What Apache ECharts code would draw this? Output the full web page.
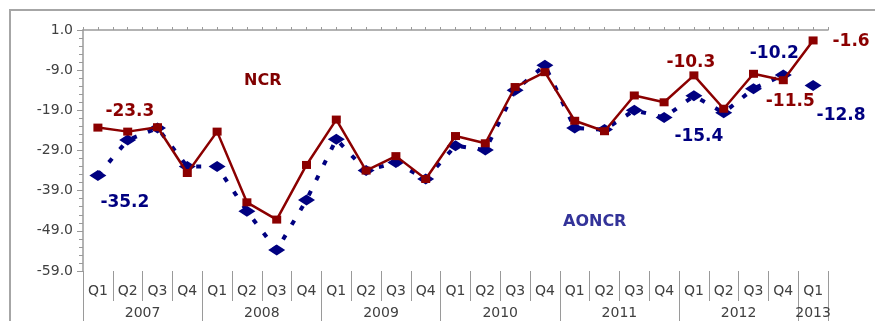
<!DOCTYPE html>
<html>
<head>
<meta charset="utf-8">
<script src="https://cdn.jsdelivr.net/npm/echarts@6/dist/echarts.min.js"></script>
<style>html,body{margin:0;padding:0;background:#fff;}#c{width:875px;height:321px;}</style>
</head>
<body>
<div id="c"></div>
<script>
// ---- data ----
const years = ['2007', '2008', '2009', '2010', '2011', '2012', '2013'];
const quartersPerYear = [4, 4, 4, 4, 4, 4, 1];
const quarters = ['Q1','Q2','Q3','Q4','Q1','Q2','Q3','Q4','Q1','Q2','Q3','Q4','Q1','Q2','Q3','Q4','Q1','Q2','Q3','Q4','Q1','Q2','Q3','Q4','Q1'];
const ncr = [-23.3, -24.3, -23.2, -34.6, -24.3, -41.9, -46.2, -32.6, -21.3, -34.0, -30.4, -36.1, -25.4, -27.2, -13.2, -9.5, -21.6, -24.2, -15.3, -17.0, -10.3, -18.6, -9.9, -11.5, -1.6];
const aoncr = [-35.2, -26.4, -23.4, -33.0, -33.0, -44.1, -53.8, -41.3, -26.2, -34.0, -32.0, -36.1, -27.8, -28.9, -14.0, -7.8, -23.4, -23.8, -19.0, -20.8, -15.4, -19.6, -13.6, -10.2, -12.8];
const yTicks = [1.0, -9.0, -19.0, -29.0, -39.0, -49.0, -59.0];

// ---- label placement (style, not data) ----
const ncrLabelOffsets = { 0: [32, -16], 20: [-3, -13], 23: [7, 21], 24: [38, 1] };
const aoncrLabelOffsets = { 0: [27, 27], 20: [5, 41], 23: [-9, -21], 24: [28, 30] };

const NCR_COLOR = '#8B0000';
const AONCR_COLOR = '#000080';
const AXIS_COLOR = '#9a9a9a';
const TEXT_COLOR = '#404040';

function withLabels(values, offsets, color) {
  return values.map((v, i) => {
    if (v === null || v === undefined) return v;
    const item = { value: v };
    if (offsets[i]) {
      item.label = {
        show: true, position: 'inside', offset: offsets[i],
        formatter: (p) => Number(p.value).toFixed(1),
        color: color, fontSize: 17, fontWeight: 'bold', fontFamily: 'DejaVu Sans'
      };
    }
    return item;
  });
}

const lastIdx = aoncr.length - 1;
const aoncrLineVals = aoncr.map((v, i) => (i === lastIdx ? null : v));
const aoncrTailVals = aoncr.map((v, i) => (i === lastIdx ? v : null));

const yearBounds = [0];
quartersPerYear.forEach(n => yearBounds.push(yearBounds[yearBounds.length - 1] + n));
const yearCenters = quartersPerYear.map((n, i) => yearBounds[i] + n / 2);

const G = { left: 83, right: 47, top: 30, bottom: 50, containLabel: false };
const hiddenY = (gi) => ({ type: 'value', gridIndex: gi, show: false, min: 0, max: 1 });

const chart = echarts.init(document.getElementById('c'));
chart.setOption({
  animation: false,
  backgroundColor: '#ffffff',
  grid: [Object.assign({}, G), Object.assign({}, G), Object.assign({}, G)],
  xAxis: [
    {
      type: 'category', gridIndex: 0, position: 'bottom', data: quarters, boundaryGap: true,
      axisLine: { show: false, onZero: false },
      axisTick: { show: true, interval: 0, length: 30, lineStyle: { color: AXIS_COLOR, width: 1 } },
      axisLabel: { interval: 0, margin: 13, color: TEXT_COLOR, fontSize: 14, fontFamily: 'DejaVu Sans' },
      splitLine: { show: false }
    },
    {
      type: 'value', gridIndex: 1, position: 'bottom', min: 0, max: yearBounds[yearBounds.length - 1],
      axisLine: { show: false, onZero: false },
      axisTick: { show: true, customValues: yearBounds, length: 50, lineStyle: { color: AXIS_COLOR, width: 1 } },
      axisLabel: {
        show: true, customValues: yearCenters, margin: 35, color: TEXT_COLOR, fontSize: 14, fontFamily: 'DejaVu Sans',
        formatter: (v) => { const i = yearCenters.findIndex(c => Math.abs(c - v) < 1e-6); return i >= 0 ? years[i] : ''; }
      },
      splitLine: { show: false }
    },
    {
      type: 'value', gridIndex: 2, position: 'top', min: 0, max: quarters.length * 2, interval: 1,
      axisLine: { show: true, onZero: false, lineStyle: { color: AXIS_COLOR, width: 1.5 } },
      axisTick: { show: true, length: 3, lineStyle: { color: AXIS_COLOR } },
      axisLabel: { show: false },
      splitLine: { show: false }
    }
  ],
  yAxis: [
    {
      type: 'value', gridIndex: 0, min: yTicks[yTicks.length - 1], max: yTicks[0], interval: 10,
      axisLine: { show: true, onZero: false, lineStyle: { color: AXIS_COLOR, width: 1.5 } },
      axisTick: { show: true, length: 6, lineStyle: { color: AXIS_COLOR } },
      minorTick: { show: true, splitNumber: 5, length: 4, lineStyle: { color: AXIS_COLOR } },
      axisLabel: { margin: 10, color: TEXT_COLOR, fontSize: 14, fontFamily: 'DejaVu Sans', formatter: (v) => v.toFixed(1) },
      splitLine: { show: false }
    },
    hiddenY(1),
    hiddenY(2)
  ],
  series: [
    {
      name: 'AONCR', type: 'line', xAxisIndex: 0, yAxisIndex: 0, data: withLabels(aoncrLineVals, aoncrLabelOffsets, AONCR_COLOR),
      symbol: 'diamond', symbolSize: [17, 11], showAllSymbol: true,
      lineStyle: { color: AONCR_COLOR, width: 4, type: [5, 12] },
      itemStyle: { color: AONCR_COLOR }, z: 2
    },
    {
      name: 'AONCR tail', type: 'line', xAxisIndex: 0, yAxisIndex: 0, data: withLabels(aoncrTailVals, aoncrLabelOffsets, AONCR_COLOR),
      symbol: 'diamond', symbolSize: [17, 11], showAllSymbol: true,
      lineStyle: { width: 0 }, itemStyle: { color: AONCR_COLOR }, z: 2
    },
    {
      name: 'NCR', type: 'line', xAxisIndex: 0, yAxisIndex: 0, data: withLabels(ncr, ncrLabelOffsets, NCR_COLOR),
      symbol: 'rect', symbolSize: [9, 8], showAllSymbol: true,
      lineStyle: { color: NCR_COLOR, width: 2.5 },
      itemStyle: { color: NCR_COLOR }, z: 3
    }
  ],
  graphic: [
    { type: 'polyline', shape: { points: [[10, 321], [10, 10], [875, 10]] }, style: { stroke: '#a6a6a6', lineWidth: 2, fill: null }, silent: true },
    { type: 'text', left: 244, top: 73, style: { text: 'NCR', fill: '#800000', font: 'bold 16px "DejaVu Sans"' } },
    { type: 'text', left: 563, top: 214, style: { text: 'AONCR', fill: '#333399', font: 'bold 16px "DejaVu Sans"' } }
  ]
});
</script>
</body>
</html>
